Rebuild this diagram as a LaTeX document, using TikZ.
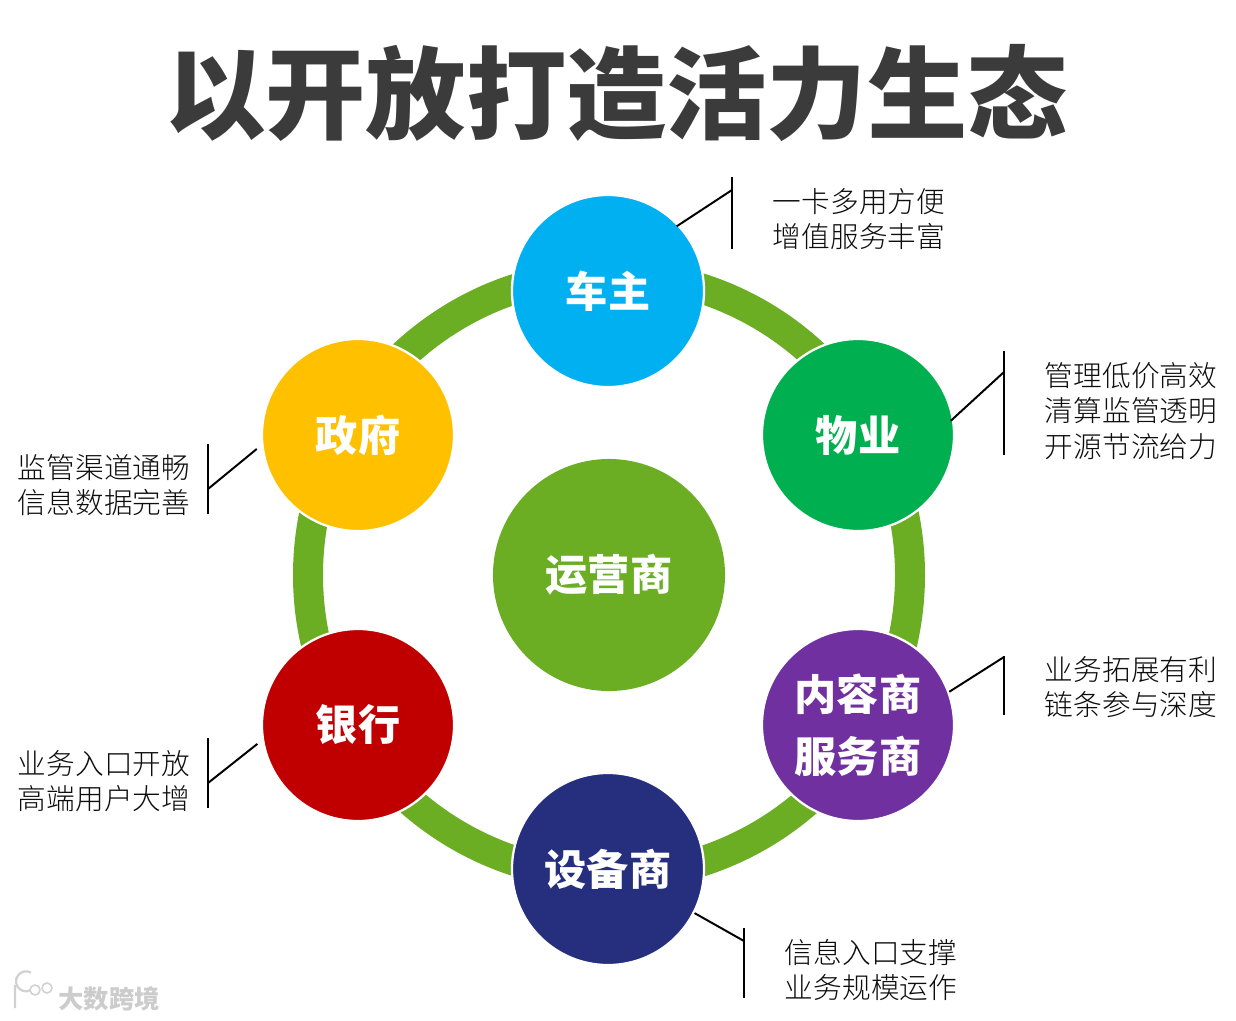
\documentclass[tikz,border=0pt]{standalone}
\usepackage{fontspec}
\setmainfont{Noto Sans CJK SC}
\newfontfamily\notefont{Noto Sans CJK SC Light}
\usepackage{xcolor}
\usetikzlibrary{calc}
\definecolor{ringgreen}{HTML}{6BAE24}
\definecolor{carblue}{HTML}{00B0F0}
\definecolor{estategreen}{HTML}{00B050}
\definecolor{contentpurple}{HTML}{7030A0}
\definecolor{devicenavy}{HTML}{262F7D}
\definecolor{bankred}{HTML}{C00000}
\definecolor{govyellow}{HTML}{FFC000}
\tikzset{party/.style={circle,draw=white,line width=1.6pt,minimum size=4.8cm,inner sep=0pt,text=white,align=center,font=\fontsize{30}{44}\selectfont\bfseries},
  lead/.style={black,line width=1.4pt},
  note/.style={align=center,text=black!95,font=\notefont\fontsize{20.4}{25}\selectfont}}

\begin{document}
\begin{tikzpicture}[x=0.025cm,y=-0.025cm]
\useasboundingbox (0,0) rectangle (1236,1020);
\node[text=black!77,font=\fontsize{71.3}{80}\selectfont\bfseries] (title) at (616.5,93){以开放打造活力生态};
\draw[ringgreen,line width=30*0.025cm] (609,575) circle (301);
\node[party,fill=ringgreen,minimum size=5.8cm,draw=none] (operator) at (609,575){运营商};
\node[party,fill=carblue] (owner) at (608,291){车主};
\node[party,fill=estategreen] (estate) at (858,435){物业};
\node[party,fill=contentpurple] (content) at (858,725){内容商\\服务商};
\node[party,fill=devicenavy] (device) at (608,869){设备商};
\node[party,fill=bankred] (bank) at (358,725){银行};
\node[party,fill=govyellow] (gov) at (358,435){政府};
% callouts: slanted lead onto an upright bar
\coordinate (ownerA) at (732,177); \coordinate (ownerB) at (732,249); \coordinate (ownerJ) at (732,190);
\draw[lead] (ownerA)--(ownerB); \draw[lead,shorten <=-0.07cm] (owner.43)--(ownerJ);
\coordinate (estateA) at (1004,351); \coordinate (estateB) at (1004,455); \coordinate (estateJ) at (1004,372);
\draw[lead] (estateA)--(estateB); \draw[lead,shorten <=-0.1cm] (estate.10)--(estateJ);
\coordinate (contentA) at (1004,656); \coordinate (contentB) at (1004,715); \coordinate (contentJ) at (1004,657);
\draw[lead] (contentA)--(contentB); \draw[lead] (content.20)--(contentJ);
\coordinate (deviceA) at (744,928); \coordinate (deviceB) at (744,998); \coordinate (deviceJ) at (744,941);
\draw[lead] (deviceA)--(deviceB); \draw[lead] (device.-27)--(deviceJ);
\coordinate (bankA) at (208,738); \coordinate (bankB) at (208,808); \coordinate (bankJ) at (208,783);
\draw[lead] (bankA)--(bankB); \draw[lead,shorten <=0.15cm] (bank.189)--(bankJ);
\coordinate (govA) at (208,444); \coordinate (govB) at (208,514); \coordinate (govJ) at (208,489);
\draw[lead] (govA)--(govB); \draw[lead,shorten <=0.15cm] (gov.186)--(govJ);
\node[note] (ownerNote) at (859,219){一卡多用方便\\增值服务丰富};
\node[note] (estateNote) at (1131,411){管理低价高效\\清算监管透明\\开源节流给力};
\node[note] (contentNote) at (1131,687){业务拓展有利\\链条参与深度};
\node[note] (deviceNote) at (871,970){信息入口支撑\\业务规模运作};
\node[note] (bankNote) at (104,781){业务入口开放\\高端用户大增};
\node[note] (govNote) at (104,485){监管渠道通畅\\信息数据完善};
% watermark
\draw[black!18,line width=1.6pt] (15,985)--(15,1008) (31,990) arc (60:300:10 and 10);
\draw[black!18,line width=1.1pt] (35,990) circle (5) (47,988) circle (5);
\node[text=black!20,font=\fontsize{18}{20}\selectfont\bfseries] (mark) at (109,999){大数跨境};
\end{tikzpicture}
\end{document}
